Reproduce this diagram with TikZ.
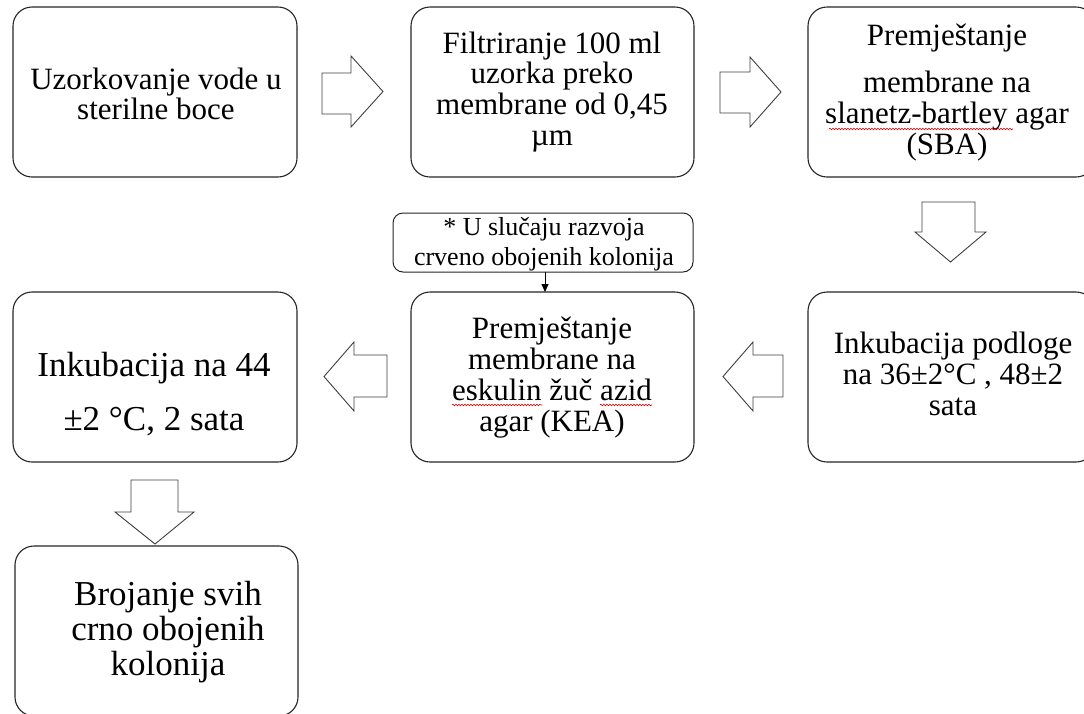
\documentclass[tikz,border=0pt]{standalone}
\usepackage{fontspec}
\setmainfont{Liberation Serif}
\usetikzlibrary{arrows.meta,decorations.pathmorphing}
\newcommand\stk[1]{\begin{tabular}[t]{@{}c@{}}#1\end{tabular}}
\begin{document}
\begin{tikzpicture}[x=1pt,y=-1pt,
  box/.style={draw=black!85, line width=1.1pt, rounded corners=19pt, inner sep=0pt, outer sep=0pt, fill=white},
  notebox/.style={draw=black!85, line width=1pt, rounded corners=10pt, inner sep=0pt, outer sep=0pt, fill=white},
  txt/.style={inner sep=0pt, outer sep=0pt, anchor=base},
  blockarrow/.style={draw=black!75, line width=0.9pt, fill=white, line join=miter},
  spell/.style={draw=red!85!black, line width=0.6pt, decorate, decoration={snake, amplitude=0.8pt, segment length=3pt}}]
\useasboundingbox (0,0) rectangle (1084,713);
\clip (0,0) rectangle (1084,713);
\fill[white] (0,0) rectangle (1084,713);

% boxes
\node[box, minimum width=284pt, minimum height=170pt] (b1) at (155,92) {};
\node[box, minimum width=283pt, minimum height=170pt] (b2) at (552.5,92) {};
\node[box, minimum width=287pt, minimum height=170pt] (b3) at (951.5,92) {};
\node[box, minimum width=287pt, minimum height=170pt] (b6) at (951.5,377) {};
\node[box, minimum width=283pt, minimum height=170pt] (b5) at (552.5,377) {};
\node[box, minimum width=284pt, minimum height=170pt] (b4) at (155,377) {};
\node[box, minimum width=283pt, minimum height=170pt] (b7) at (156.5,631) {};
\node[notebox, minimum width=300pt, minimum height=59pt] (n1) at (543,242.5) {};

% texts
\node[txt, font=\fontsize{31}{29}\selectfont] (t1) at (156,89) {\stk{Uzorkovanje vode u\\sterilne boce}};
\node[txt, font=\fontsize{31}{30.7}\selectfont] (t2) at (552,53) {\stk{Filtriranje 100 ml\\uzorka preko\\membrane od 0,45\\µm}};
\node[txt, font=\fontsize{31}{31}\selectfont] (t3) at (947,45) {\stk{Premještanje\\[16pt]membrane na\\slanetz-bartley agar\\(SBA)}};
\node[txt, font=\fontsize{31}{31}\selectfont] (t6) at (953,353) {\stk{Inkubacija podloge\\na 36±2°C , 48±2\\sata}};
\node[txt, font=\fontsize{31}{31}\selectfont] (t5) at (552,338) {\stk{Premještanje\\membrane na\\eskulin žuč azid\\agar (KEA)}};
\node[txt, font=\fontsize{35}{54}\selectfont] (t4) at (154,376) {\stk{Inkubacija na 44\\±2 °C, 2 sata}};
\node[txt, font=\fontsize{35}{35}\selectfont] (t7) at (168,605) {\stk{Brojanje svih\\crno obojenih\\kolonija}};
\node[txt, font=\fontsize{26}{30}\selectfont] (tn) at (544,235) {\stk{* U slučaju razvoja\\crveno obojenih kolonija}};

% spell-check underlines
\path[spell] (829,129) -- (1013,129);
\path[spell] (452,405) -- (542,405);
\path[spell] (600,405) -- (652,405);

% connector from note to box
\coordinate (na) at (545,0);
\draw[black, line width=1pt, -{Triangle[length=8pt,width=7pt]}] (na |- n1.south) -- (na |- b5.north);

% block arrows
\draw[blockarrow] (322,73)--(351,73)--(351,56)--(383,91.5)--(351,127)--(351,114)--(322,114)--cycle;
\draw[blockarrow] (720,72)--(750,72)--(750,57)--(781,92)--(750,127)--(750,113)--(720,113)--cycle;
\draw[blockarrow] (922,202)--(975,202)--(975,232)--(986,232)--(950.5,262)--(915,232)--(922,232)--cycle;
\draw[blockarrow] (783,355)--(753,355)--(753,342)--(723,376.5)--(753,411)--(753,397)--(783,397)--cycle;
\draw[blockarrow] (387,355)--(354,355)--(354,342)--(324,376.5)--(354,411)--(354,397)--(387,397)--cycle;
\draw[blockarrow] (131,480)--(178,480)--(178,512)--(194,512)--(155,544)--(115,512)--(131,512)--cycle;
\end{tikzpicture}
\end{document}
